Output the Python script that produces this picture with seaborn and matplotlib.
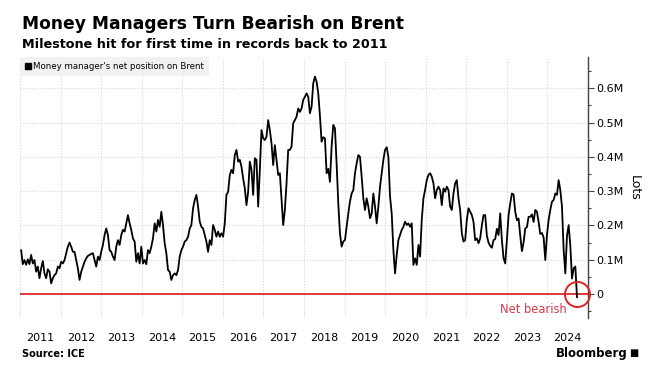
import matplotlib
matplotlib.use("Agg")
import matplotlib.pyplot as plt
import matplotlib.dates as mdates
from matplotlib.ticker import MultipleLocator, FuncFormatter
from matplotlib.lines import Line2D
import seaborn as sns
import pandas as pd
import numpy as np

# ---- data (thousand lots, ~semi-monthly samples) ----
start_date = "2011-01-11"
end_date = "2024-09-24"
net_position_k = [
    128, 87, 99, 85, 101, 87, 114, 89, 99, 65, 80, 46, 75, 96, 60, 46, 72, 65, 31, 46,
    55, 60, 80, 75, 94, 89, 99, 119, 138, 150, 138, 123, 123, 99, 75, 41, 65, 80, 94, 104,
    111, 114, 117, 119, 99, 80, 109, 99, 123, 143, 172, 191, 172, 128, 123, 109, 99, 138, 157, 143,
    172, 187, 182, 206, 230, 206, 187, 162, 153, 94, 119, 89, 138, 89, 99, 87, 128, 119, 138, 162,
    206, 182, 216, 196, 240, 201, 148, 119, 70, 65, 41, 55, 60, 55, 70, 109, 128, 138, 153, 157,
    167, 191, 201, 250, 274, 289, 255, 211, 196, 191, 172, 153, 123, 157, 143, 201, 187, 167, 182, 167,
    177, 167, 206, 289, 298, 347, 362, 352, 405, 420, 386, 391, 371, 337, 308, 259, 298, 386, 362, 289,
    396, 391, 255, 362, 478, 454, 449, 459, 507, 478, 439, 376, 434, 391, 347, 352, 274, 201, 245, 323,
    420, 420, 430, 498, 507, 517, 541, 531, 541, 566, 575, 585, 575, 527, 546, 614, 634, 619, 585,
    520, 444, 457, 454, 352, 365, 327, 430, 493, 483, 380, 264, 177, 138, 153, 157, 196, 235, 270, 293,
    303, 352, 381, 405, 400, 342, 279, 245, 279, 255, 221, 235, 293, 255, 206, 255, 313, 352, 391, 420,
    428, 400, 284, 235, 128, 60, 114, 157, 172, 187, 196, 211, 201, 206, 196, 206, 85, 104, 85, 143,
    109, 216, 279, 303, 332, 347, 352, 342, 323, 279, 303, 313, 303, 259, 308, 298, 313, 303, 255, 245,
    293, 323, 332, 279, 245, 177, 153, 157, 216, 250, 240, 230, 210, 157, 162, 148, 162, 200, 230, 230,
    170, 150, 140, 135, 157, 160, 190, 172, 235, 157, 104, 89, 157, 230, 264, 293, 290, 240, 215, 220,
    170, 125, 150, 191, 195, 225, 225, 232, 210, 245, 240, 210, 175, 178, 165, 99, 172, 216, 245, 269,
    274, 293, 289, 332, 303, 255, 128, 60, 170, 201, 140, 45, 75, 80, -10,
]
series_label = "Money manager's net position on Brent"
title = "Money Managers Turn Bearish on Brent"
subtitle = "Milestone hit for first time in records back to 2011"
source = "Source: ICE"
y_ticks_k = [0, 100, 200, 300, 400, 500, 600]

dates = pd.date_range(start_date, end_date, periods=len(net_position_k))
df = pd.DataFrame({"date": dates, "value": net_position_k})

sns.set_theme(style="white")
plt.rcParams["font.family"] = ["DejaVu Sans"]
plt.rcParams["text.color"] = "black"

fig = plt.figure(figsize=(6.48, 3.78), dpi=100)
ax = fig.add_axes([20 / 648, 60 / 378, (588 - 20) / 648, (318 - 57) / 378])

sns.lineplot(data=df, x="date", y="value", ax=ax, color="black", linewidth=1.3, legend=False)
ax.axhline(0, color="#e03a3a", linewidth=1.4, zorder=1)

ax.set_xlim(pd.Timestamp("2011-01-01"), pd.Timestamp("2025-01-01"))
ax.set_ylim(-70, 691)

# x axis: gridlines at year starts, labels mid-year
ax.xaxis.set_major_locator(mdates.YearLocator())
ax.xaxis.set_major_formatter(plt.NullFormatter())
ax.xaxis.set_minor_locator(mdates.MonthLocator(bymonth=7))
ax.xaxis.set_minor_formatter(mdates.DateFormatter("%Y"))
ax.tick_params(axis="x", which="both", length=0, labelsize=8, colors="black", pad=10.5)

# y axis on right
ax.yaxis.tick_right()
ax.yaxis.set_label_position("right")
ax.set_yticks(y_ticks_k)
ax.yaxis.set_minor_locator(MultipleLocator(50))
ax.yaxis.set_major_formatter(FuncFormatter(lambda v, p: "0" if v == 0 else f"{v/1000:.1f}M"))
ax.tick_params(axis="y", which="major", length=4, width=0.8, color="#444444",
               labelsize=8, labelcolor="black", pad=2, right=True, left=False)
ax.tick_params(axis="y", which="minor", length=2.5, width=0.8, color="#444444", right=True, left=False)
ax.set_ylabel("Lots", fontsize=9, rotation=270, labelpad=12, color="black")

ax.grid(True, which="major", axis="both", color="#d8d8d8", linestyle=(0, (1, 1.5)), linewidth=0.8)
ax.set_xlabel("")
for s in ["top", "left", "bottom"]:
    ax.spines[s].set_visible(False)
ax.spines["right"].set_color("#444444")
ax.spines["right"].set_linewidth(1.0)

# legend
handle = Line2D([], [], marker="s", color="black", linestyle="none", markersize=5)
leg = ax.legend([handle], [series_label], loc="upper left", bbox_to_anchor=(0, 1.0),
                frameon=True, fontsize=6.2, handlelength=0.6, handletextpad=0.3,
                borderpad=0.6, borderaxespad=0.0, fancybox=False, labelcolor="black")
leg.get_frame().set_facecolor("#efefef")
leg.get_frame().set_edgecolor("none")

# net bearish marker
last_date = df["date"].iloc[-1]
ax.plot([last_date], [0], marker="o", markersize=18, markerfacecolor="none",
        markeredgecolor="#e0231f", markeredgewidth=1.4, clip_on=False, zorder=5)
ax.annotate("Net bearish", xy=(last_date, 0), xytext=(-10, -16), textcoords="offset pixels",
            ha="right", va="center", fontsize=8.3, color="#d43a4a")

# titles & footer
fig.text(22 / 648, 1 - 24 / 378, title, fontsize=12.3, fontweight="bold", va="center", ha="left", color="black")
fig.text(22 / 648, 1 - 45 / 378, subtitle, fontsize=9.2, fontweight="bold", va="center", ha="left", color="black")
fig.text(22 / 648, 1 - 354 / 378, source, fontsize=7, fontweight="bold", va="center", ha="left", color="black")
fig.text(628 / 648, 1 - 353 / 378, "Bloomberg", fontsize=8.5, fontweight="bold", va="center", ha="right", color="black")
fig.text(638 / 648, 1 - 353 / 378, "\u25A0", fontsize=7, va="center", ha="right", color="black")

fig.savefig("out.png", dpi=100)
